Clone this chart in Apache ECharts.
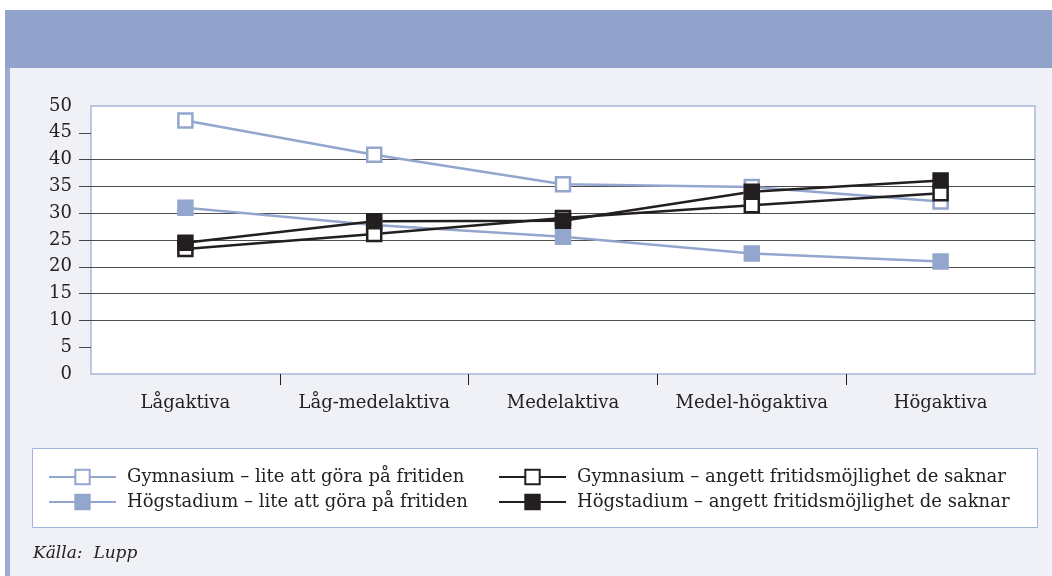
<!DOCTYPE html>
<html>
<head>
<meta charset="utf-8">
<script src="https://cdn.jsdelivr.net/npm/echarts@6/dist/echarts.min.js"></script>
<style>
  html, body { margin: 0; padding: 0; background: #fff; }
  #chart { width: 1052px; height: 576px; }
</style>
</head>
<body>
<div id="chart"></div>
<script>
// kategorier
const categories = ['Lågaktiva', 'Låg-medelaktiva', 'Medelaktiva', 'Medel-högaktiva', 'Högaktiva']
const yTicks = [5, 10, 15, 20, 25, 30, 35, 40, 45]
const catBoundaries = [1, 2, 3, 4]

// serier (procent)
const gymnasiumLite = [47.3, 40.9, 35.4, 34.9, 32.2]
const hogstadiumLite = [31.0, 27.8, 25.6, 22.5, 21.0]
const gymnasiumAngett = [23.3, 26.1, 29.1, 31.5, 33.7]
const hogstadiumAngett = [24.5, 28.5, 28.6, 34.0, 36.1]

const names = [
  'Gymnasium – lite att göra på fritiden',
  'Högstadium – lite att göra på fritiden',
  'Gymnasium – angett fritidsmöjlighet de saknar',
  'Högstadium – angett fritidsmöjlighet de saknar',
]

const BLUE = '#93a6cd'
const BLACK = '#231f20'
const FONT = 'DejaVu Serif'

function lineSeries(name, data, color, fill) {
  return {
    name,
    type: 'line',
    data,
    symbol: 'rect',
    symbolSize: 14,
    lineStyle: { color, width: 2.5 },
    itemStyle: { color: fill, borderColor: color, borderWidth: 2.5 },
    emphasis: { disabled: true },
    animation: false,
  }
}

const legendBase = {
  orient: 'vertical', top: 468, padding: 0,
  itemWidth: 67, itemHeight: 18, itemGap: 7,
  textStyle: { fontFamily: FONT, fontSize: 18, color: '#222', padding: [0, 0, 0, 6] },
  selectedMode: false,
}

const chart = echarts.init(document.getElementById('chart'))
chart.setOption({
  backgroundColor: '#fff',
  textStyle: { fontFamily: FONT },
  graphic: [
    // bakgrund
    { type: 'rect', z: -10, shape: { x: 5, y: 68, width: 1047, height: 508 }, style: { fill: '#eff1f7' } },
    // blått band
    { type: 'rect', z: -9, shape: { x: 5, y: 10, width: 1047, height: 58 }, style: { fill: '#91a3cb' } },
    // vänsterkant
    { type: 'rect', z: -9, shape: { x: 5, y: 68, width: 5, height: 508 }, style: { fill: '#9dacd1' } },
    // legendruta
    { type: 'rect', z: -8, shape: { x: 32.5, y: 448.5, width: 1005, height: 79 }, style: { fill: '#fff', stroke: '#a3b4d8', lineWidth: 1 } },
    // källa
    { type: 'text', left: 33, top: 545, style: { text: 'Källa:  Lupp', font: 'italic 17px "' + FONT + '"', fill: '#222' } },
  ],
  grid: {
    left: 91, right: 17, top: 106, bottom: 202,
    show: true, backgroundColor: '#fff', borderColor: '#a9b8da', borderWidth: 1.5,
  },
  legend: [
    Object.assign({ data: [names[0], names[1]], left: 48 }, legendBase),
    Object.assign({ data: [names[2], names[3]], left: 498 }, legendBase),
  ],
  xAxis: [
    {
      type: 'category',
      data: categories,
      axisLine: { show: false },
      axisTick: { show: false },
      axisLabel: { interval: 0, hideOverlap: false, fontFamily: FONT, fontSize: 18, color: '#222', margin: 20 },
    },
    {
      // streck mellan kategorierna
      type: 'value', min: 0, max: 5, position: 'bottom',
      axisLine: { show: false },
      axisLabel: { show: false },
      splitLine: { show: false },
      axisTick: { show: true, customValues: catBoundaries, length: 11, lineStyle: { color: BLACK, width: 1 } },
    },
  ],
  yAxis: {
    type: 'value', min: 0, max: 50, interval: 5,
    axisLine: { show: false },
    axisTick: { show: true, customValues: yTicks, length: 12, lineStyle: { color: '#444', width: 1 } },
    axisLabel: { fontFamily: FONT, fontSize: 18, color: '#222', margin: 19 },
    splitLine: { show: true, showMinLine: false, showMaxLine: false, lineStyle: { color: '#4d4d4d', width: 1 } },
  },
  series: [
    lineSeries(names[0], gymnasiumLite, BLUE, '#fff'),
    lineSeries(names[1], hogstadiumLite, BLUE, BLUE),
    lineSeries(names[2], gymnasiumAngett, BLACK, '#fff'),
    lineSeries(names[3], hogstadiumAngett, BLACK, BLACK),
  ],
})
</script>
</body>
</html>
